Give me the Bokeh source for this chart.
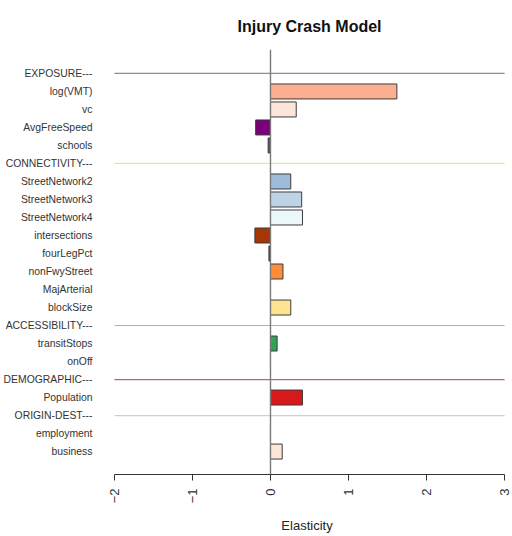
import math
from bokeh.plotting import figure
from bokeh.models import Range1d, FixedTicker, Span, ColumnDataSource
from bokeh.embed import file_html
from bokeh.resources import INLINE

# ---- data ----
title_text = "Injury Crash Model"
labels = ["EXPOSURE---", "log(VMT)", "vc", "AvgFreeSpeed", "schools",
          "CONNECTIVITY---", "StreetNetwork2", "StreetNetwork3", "StreetNetwork4",
          "intersections", "fourLegPct", "nonFwyStreet", "MajArterial", "blockSize",
          "ACCESSIBILITY---", "transitStops", "onOff",
          "DEMOGRAPHIC---", "Population",
          "ORIGIN-DEST---", "employment", "business"]
values = [None, 1.62, 0.33, -0.19, -0.03,
          None, 0.26, 0.40, 0.41,
          -0.20, -0.02, 0.16, 0.0, 0.26,
          None, 0.085, 0.0,
          None, 0.41,
          None, 0.0, 0.15]
bar_colors = [None, "#FCAE91", "#FEE5D9", "#7A0177", "#5A4E74",
              None, "#9EBCDA", "#BFD3E6", "#EDF8FB",
              "#A63603", "#6B3A2A", "#FD8D3C", "#FDBE85", "#FEE391",
              None, "#31A354", "#A1D99B",
              None, "#D7191C",
              None, "#FEE5D9", "#FEE5D9"]
group_colors = {"EXPOSURE---": "#A47AAF", "CONNECTIVITY---": "#EDE58C",
                "ACCESSIBILITY---": "#7ED37E", "DEMOGRAPHIC---": "#BF6A5F",
                "ORIGIN-DEST---": "#CFCFCF"}
x_ticks = [-2, -1, 0, 1, 2, 3]

# ---- sources ----
bar_y, bar_v, bar_c = [], [], []
for i, (v, c) in enumerate(zip(values, bar_colors)):
    if v is not None:
        bar_y.append(i)
        bar_v.append(v)
        bar_c.append(c)
bars = ColumnDataSource(dict(y=bar_y, v=bar_v, c=bar_c))

g_y, g_c = [], []
for i, lab in enumerate(labels):
    if lab in group_colors:
        g_y.append(i)
        g_c.append(group_colors[lab])
groups = ColumnDataSource(dict(y=g_y, c=g_c))

p = figure(width=512, height=536, title=title_text,
           x_range=Range1d(-2.153, 3.089), y_range=Range1d(22.274, -1.33),
           output_backend="svg", toolbar_location=None,
           min_border_left=100, min_border_right=1, min_border_top=48, min_border_bottom=62)
p.outline_line_color = None
p.border_fill_color = "white"
p.xgrid.visible = False
p.ygrid.visible = False
p.background_fill_color = "white"

xa = p.below[0]
ya = p.left[0]

# title over the plotting region (R-style)
p.title.align = "left"
p.title.offset = 135
p.title.standoff = 30
p.title.text_font = "Liberation Sans"
p.title.text_font_size = "16px"
p.title.text_font_style = "bold"
p.title.text_color = "#111111"

p.segment(x0=x_ticks[0], x1=x_ticks[-1], y0="y", y1="y", line_color="c",
          line_width=1.2, source=groups)

p.add_layout(Span(location=0, dimension="height", line_color="#7a7a7a", line_width=1.4))

p.hbar(y="y", left=0, right="v", height=0.833, fill_color="c",
       line_color="#3c3c3c", line_width=1, source=bars)

xa.bounds = (x_ticks[0], x_ticks[-1])
xa.ticker = FixedTicker(ticks=x_ticks)
xa.major_label_orientation = math.pi / 2
xa.major_tick_out = 6
xa.major_tick_in = 0
xa.minor_tick_line_color = None
xa.axis_line_color = "#333333"
xa.major_tick_line_color = "#333333"
xa.major_label_standoff = 8
xa.major_label_text_font = "Liberation Sans"
xa.major_label_text_font_size = "13px"
xa.major_label_text_color = "#333333"
xa.axis_label = "Elasticity"
xa.axis_label_standoff = 12
xa.axis_label_text_font = "Liberation Sans"
xa.axis_label_text_font_size = "13px"
xa.axis_label_text_font_style = "normal"
xa.axis_label_text_color = "#222222"

ya.ticker = FixedTicker(ticks=list(range(len(labels))))
ya.major_label_overrides = {i: lab for i, lab in enumerate(labels)}
ya.axis_line_color = None
ya.major_tick_line_color = None
ya.minor_tick_line_color = None
ya.major_label_standoff = 4
ya.major_label_text_font = "Liberation Sans"
ya.major_label_text_font_size = "10.4px"
ya.major_label_text_color = "#333333"

open("out.html", "w").write(file_html(p, INLINE))
